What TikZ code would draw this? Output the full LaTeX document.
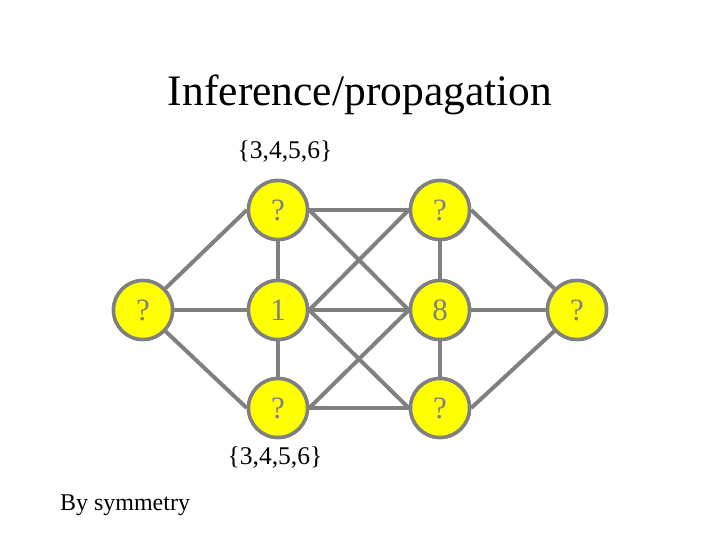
\documentclass[tikz,border=0pt]{standalone}
\usepackage{fontspec}
\setmainfont{Liberation Serif}
\definecolor{edgegray}{RGB}{128,128,128}
\definecolor{nodeyellow}{RGB}{255,255,0}
\begin{document}
\begin{tikzpicture}[x=1pt, y=-1pt,
    var/.style={circle, draw=edgegray, line width=3.5pt, fill=nodeyellow,
        minimum size=59pt, inner sep=0pt, text=edgegray, font=\fontsize{31}{33}\selectfont},
    link/.style={draw=edgegray, line width=4pt},
    domlabel/.style={font=\fontsize{25.5}{28}\selectfont}]
    \useasboundingbox (0,0) rectangle (720,540);

    % Title
    \node (title) at (360,95) {\fontsize{43.5}{46}\selectfont Inference/propagation};

    % Draw the variable nodes
    \node[var] (l) at (143,310) {?};
    \node[var] (a1) at (278,210) {?};
    \node[var] (a2) at (278,310) {1};
    \node[var] (a3) at (278,408) {?};
    \node[var] (b1) at (440,210) {?};
    \node[var] (b2) at (440,310) {8};
    \node[var] (b3) at (440,408) {?};
    \node[var] (r) at (577,310) {?};

    % Domain labels
    \node[domlabel] (dom1) at (285,152) {\{3,4,5,6\}};
    \node[domlabel] (dom2) at (275,458) {\{3,4,5,6\}};
    \node[font=\fontsize{24}{26}\selectfont] (sym) at (125,505) {By symmetry};

    % Draw the links
    \foreach \n in {a1,a2,a3} \path[link] (l) -- (\n.west);
    \foreach \n in {b1,b2,b3} \path[link] (\n.east) -- (r);
    \path[link] (a1) -- (a2) -- (a3);
    \path[link] (b1) -- (b2) -- (b3);
    \path[link] (a1.east) -- (b1.west);
    \path[link] (a2.east) -- (b2.west);
    \path[link] (a3.east) -- (b3.west);
    \path[link] (a1.east) -- (b2.west);
    \path[link] (a2.east) -- (b1.west);
    \path[link] (a2.east) -- (b3.west);
    \path[link] (a3.east) -- (b2.west);

    % Redraw nodes on top of the links
    \foreach \n/\t in {l/?, a1/?, a2/1, a3/?, b1/?, b2/8, b3/?, r/?}
        \node[var] at (\n) {\t};
\end{tikzpicture}
\end{document}
